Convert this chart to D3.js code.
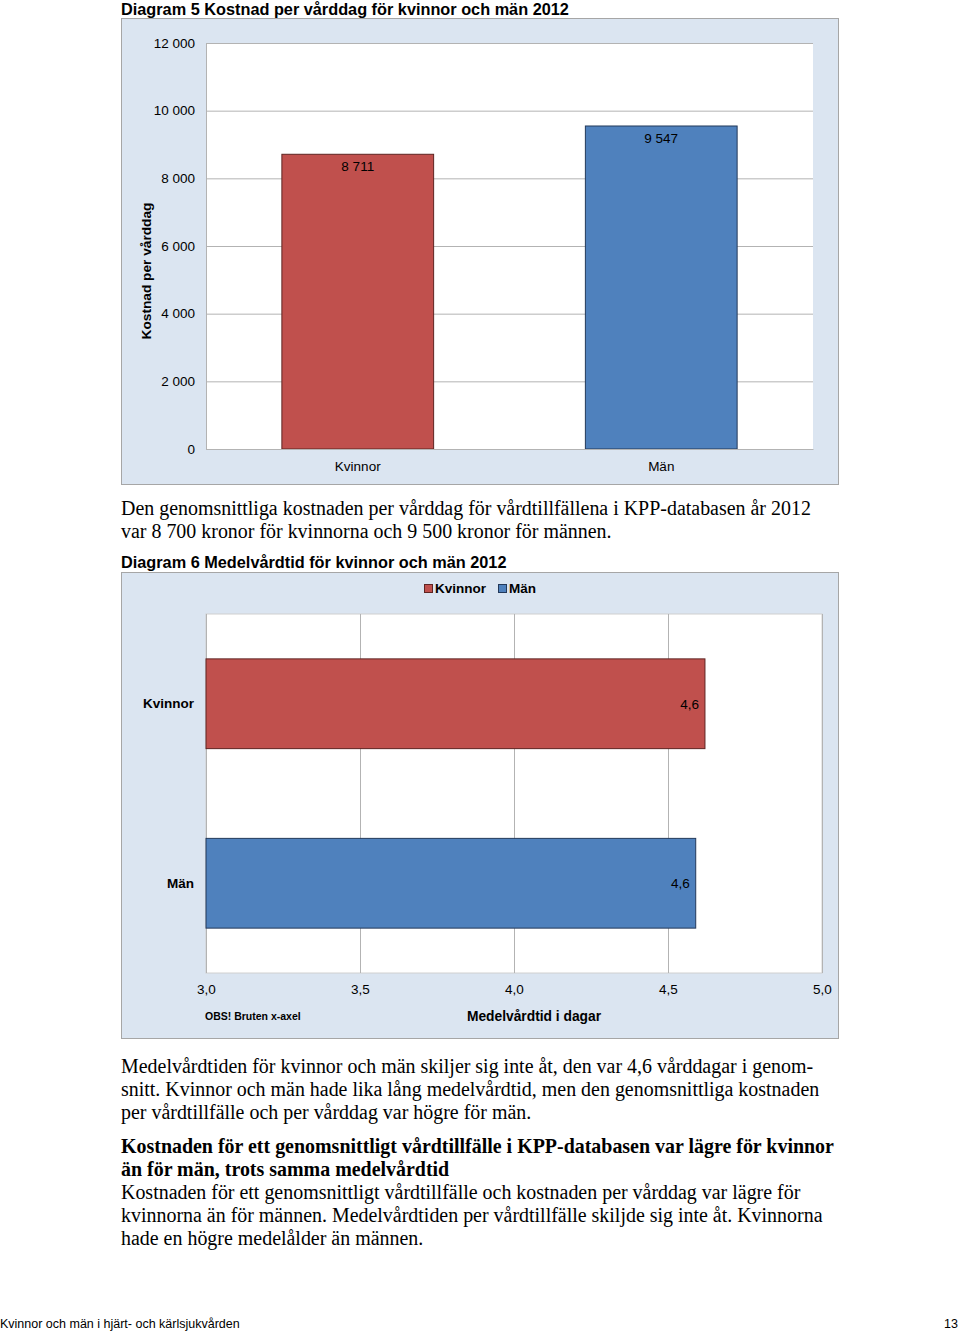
<!DOCTYPE html>
<html><head><meta charset="utf-8">
<script src="https://cdn.jsdelivr.net/npm/d3@7"></script>
<style>body{margin:0;background:#fff}svg{display:block}</style>
</head><body>
<script>
// ---- data ----
const categories = ["Kvinnor", "Män"];
const costPerDay = [8711, 9547];
const costLabels = ["8 711", "9 547"];
const costTicks = [0, 2000, 4000, 6000, 8000, 10000, 12000];
const stayDays = [4.62, 4.59];
const stayLabels = ["4,6", "4,6"];
const stayTicks = [3.0, 3.5, 4.0, 4.5, 5.0];
const colors = ["#c0504d", "#4f81bd"];
const strokes = ["#5e2422", "#23395a"];

const para1 = ["Den genomsnittliga kostnaden per vårddag för vårdtillfällena i KPP-databasen år 2012",
  "var 8 700 kronor för kvinnorna och 9 500 kronor för männen."];
const para2 = ["Medelvårdtiden för kvinnor och män skiljer sig inte åt, den var 4,6 vårddagar i genom-",
  "snitt. Kvinnor och män hade lika lång medelvårdtid, men den genomsnittliga kostnaden",
  "per vårdtillfälle och per vårddag var högre för män."];
const heading = ["Kostnaden för ett genomsnittligt vårdtillfälle i KPP-databasen var lägre för kvinnor",
  "än för män, trots samma medelvårdtid"];
const para3 = ["Kostnaden för ett genomsnittligt vårdtillfälle och kostnaden per vårddag var lägre för",
  "kvinnorna än för männen. Medelvårdtiden per vårdtillfälle skiljde sig inte åt. Kvinnorna",
  "hade en högre medelålder än männen."];

const W = 960, H = 1332;
const svg = d3.select("body").append("svg").attr("width", W).attr("height", H);
const sans = "'Liberation Sans', Arial, sans-serif";
const serif = "'Liberation Serif', 'Times New Roman', serif";
const panelFill = "#dbe5f1", panelStroke = "#a6a6a6", gridCol = "#b3b3b3";
const fmtTick = d => d3.format(",")(d).replace(/,/g, " ");

// ---- Diagram 5 ----
svg.append("text").attr("x", 121).attr("y", 14.5).attr("font-family", sans)
  .attr("font-size", 16.3).attr("font-weight", "bold").text("Diagram 5 Kostnad per vårddag för kvinnor och män 2012");
svg.append("rect").attr("x", 121.5).attr("y", 18.5).attr("width", 717).attr("height", 466)
  .attr("fill", panelFill).attr("stroke", panelStroke);

const p1 = {l: 206, r: 813, t: 43, b: 449};
svg.append("rect").attr("x", p1.l).attr("y", p1.t).attr("width", p1.r - p1.l).attr("height", p1.b - p1.t).attr("fill", "#fff");
const y1 = d3.scaleLinear().domain([0, 12000]).range([p1.b, p1.t]);
const x1 = d3.scaleBand().domain(categories).range([p1.l, p1.r]).paddingInner(0.5).paddingOuter(0.25);

const gy1 = svg.append("g").attr("transform", `translate(${p1.l},0)`)
  .call(d3.axisLeft(y1).tickValues(costTicks).tickFormat(fmtTick).tickSize(-(p1.r - p1.l)).tickPadding(11));
gy1.select(".domain").attr("stroke", gridCol);
gy1.selectAll("line").attr("stroke", gridCol);
gy1.selectAll("text").attr("font-family", sans).attr("font-size", 13.5).attr("fill", "#000");

svg.selectAll(".bar1").data(categories).join("rect")
  .attr("x", d => x1(d)).attr("width", x1.bandwidth())
  .attr("y", (d, i) => y1(costPerDay[i])).attr("height", (d, i) => p1.b - y1(costPerDay[i]))
  .attr("fill", (d, i) => colors[i]).attr("stroke", (d, i) => strokes[i]);
svg.selectAll(".lab1").data(categories).join("text")
  .attr("x", d => x1(d) + x1.bandwidth() / 2).attr("y", (d, i) => y1(costPerDay[i]) + 17)
  .attr("text-anchor", "middle").attr("font-family", sans).attr("font-size", 13.5).text((d, i) => costLabels[i]);

const gx1 = svg.append("g").attr("transform", `translate(0,${p1.b})`)
  .call(d3.axisBottom(x1).tickSize(0).tickPadding(12));
gx1.select(".domain").attr("stroke", gridCol);
gx1.selectAll("text").attr("font-family", sans).attr("font-size", 13.5).attr("fill", "#000");

svg.append("text").attr("transform", "translate(151,271) rotate(-90)").attr("text-anchor", "middle")
  .attr("font-family", sans).attr("font-size", 13.7).attr("font-weight", "bold").text("Kostnad per vårddag");

// ---- body text ----
function para(lines, y0, bold) {
  svg.append("g").selectAll("text").data(lines).join("text")
    .attr("x", 121).attr("y", (d, i) => y0 + i * 23)
    .attr("font-family", serif).attr("font-size", 19.95).attr("font-weight", bold ? "bold" : "normal").text(d => d);
}
para(para1, 515, false);

// ---- Diagram 6 ----
svg.append("text").attr("x", 121).attr("y", 568).attr("font-family", sans)
  .attr("font-size", 16.3).attr("font-weight", "bold").text("Diagram 6 Medelvårdtid för kvinnor och män 2012");
svg.append("rect").attr("x", 121.5).attr("y", 572.5).attr("width", 717).attr("height", 466)
  .attr("fill", panelFill).attr("stroke", panelStroke);

// legend
const leg = svg.append("g").attr("transform", "translate(424,588)");
const legX = [0, 74];
categories.forEach((c, i) => {
  leg.append("rect").attr("x", legX[i] + 0.5).attr("y", -3.5).attr("width", 8).attr("height", 8)
    .attr("fill", colors[i]).attr("stroke", strokes[i]);
  leg.append("text").attr("x", legX[i] + 11).attr("y", 5).attr("font-family", sans).attr("font-size", 13.5)
    .attr("font-weight", "bold").text(c);
});

const p2 = {l: 206, r: 822, t: 614, b: 973};
svg.append("rect").attr("x", p2.l).attr("y", p2.t).attr("width", p2.r - p2.l).attr("height", p2.b - p2.t)
  .attr("fill", "#fff").attr("stroke", "#d0d0d0");
const x2 = d3.scaleLinear().domain([3, 5]).range([p2.l, p2.r]);
const y2 = d3.scaleBand().domain(categories).range([p2.t, p2.b]).paddingInner(0.5).paddingOuter(0.25);

const gx2 = svg.append("g").attr("transform", `translate(0,${p2.b})`)
  .call(d3.axisBottom(x2).tickValues(stayTicks).tickFormat(d => d3.format(".1f")(d).replace(".", ","))
    .tickSize(-(p2.b - p2.t)).tickPadding(11));
gx2.select(".domain").remove();
gx2.selectAll("line").attr("stroke", gridCol);
gx2.selectAll("text").attr("font-family", sans).attr("font-size", 13.5).attr("fill", "#000");

svg.selectAll(".bar2").data(categories).join("rect")
  .attr("x", x2(3)).attr("y", d => y2(d)).attr("height", y2.bandwidth())
  .attr("width", (d, i) => x2(stayDays[i]) - x2(3))
  .attr("fill", (d, i) => colors[i]).attr("stroke", (d, i) => strokes[i]);
svg.selectAll(".lab2").data(categories).join("text")
  .attr("x", (d, i) => x2(stayDays[i]) - 6).attr("y", d => y2(d) + y2.bandwidth() / 2 + 5)
  .attr("text-anchor", "end").attr("font-family", sans).attr("font-size", 13.5).text((d, i) => stayLabels[i]);

const gy2 = svg.append("g").attr("transform", `translate(${p2.l},0)`)
  .call(d3.axisLeft(y2).tickSize(0).tickPadding(12));
gy2.select(".domain").remove();
gy2.selectAll("text").attr("font-family", sans).attr("font-size", 13.5).attr("font-weight", "bold").attr("fill", "#000");

svg.append("text").attr("x", 534).attr("y", 1021).attr("text-anchor", "middle").attr("font-family", sans)
  .attr("font-size", 13.8).attr("font-weight", "bold").text("Medelvårdtid i dagar");
svg.append("text").attr("x", 205).attr("y", 1020).attr("font-family", sans)
  .attr("font-size", 10.5).attr("font-weight", "bold").text("OBS! Bruten x-axel");

para(para2, 1073, false);
para(heading, 1153, true);
para(para3, 1199, false);

// footer
svg.append("text").attr("x", 0).attr("y", 1328).attr("font-family", sans).attr("font-size", 12.5)
  .text("Kvinnor och män i hjärt- och kärlsjukvården");
svg.append("text").attr("x", 958).attr("y", 1328).attr("text-anchor", "end").attr("font-family", sans)
  .attr("font-size", 12.5).text("13");
</script>
</body></html>
